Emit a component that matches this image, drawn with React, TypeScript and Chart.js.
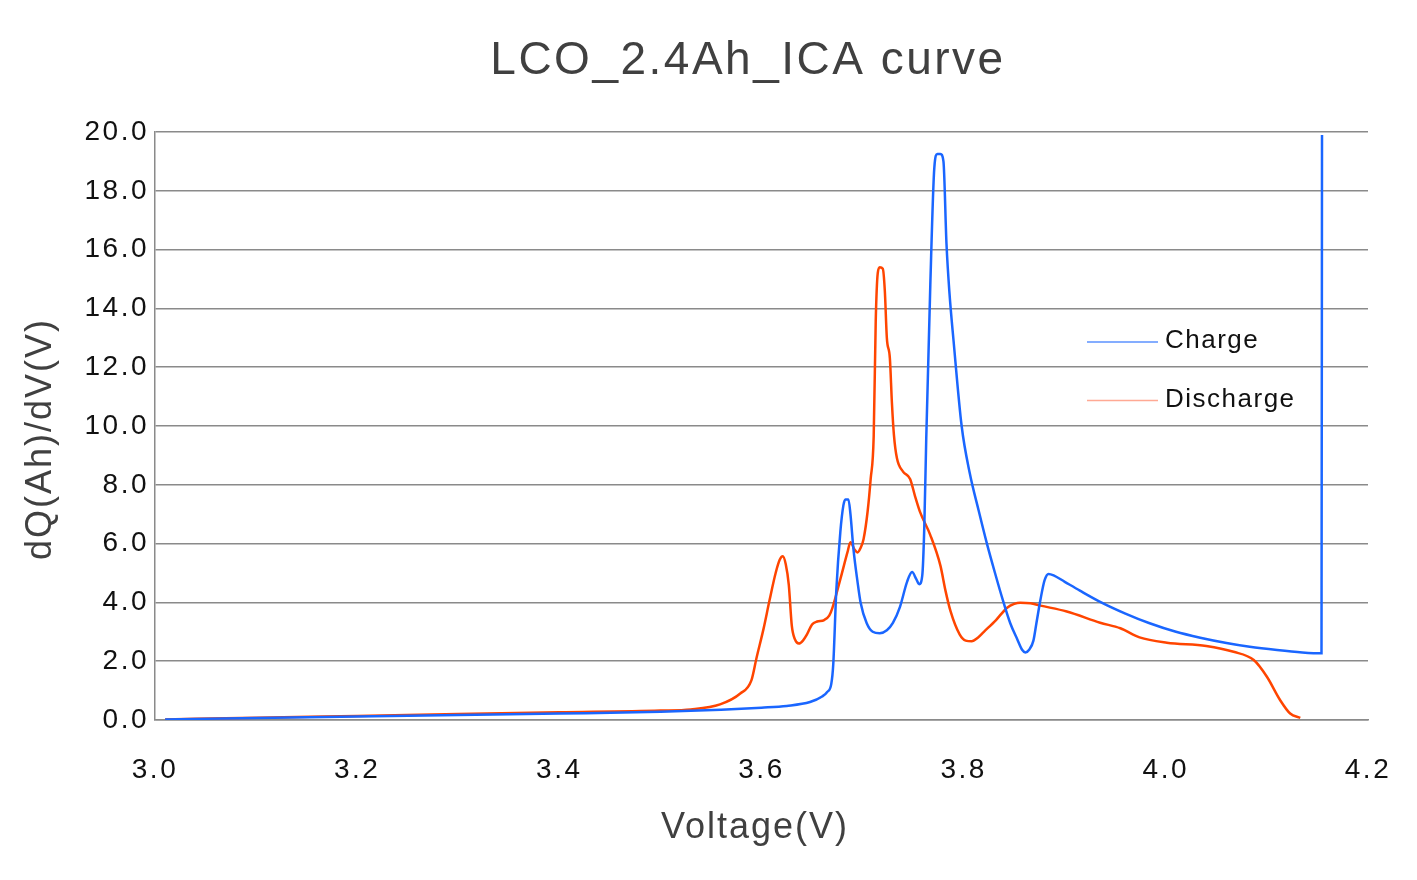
import React, { useEffect, useRef } from "react";
import { Chart, registerables } from "chart.js";

Chart.register(...registerables);

const chartTitle = "LCO_2.4Ah_ICA curve";
const xAxisTitle = "Voltage(V)";
const yAxisTitle = "dQ(Ah)/dV(V)";
const seriesLabels = ["Charge", "Discharge"];

const chargeV = [
  3.01, 3.1, 3.2, 3.3, 3.4, 3.5, 3.56, 3.6, 3.625, 3.648, 3.66, 3.665, 3.669, 3.671, 3.674, 3.678,
  3.681, 3.683, 3.686, 3.688, 3.691, 3.695, 3.698, 3.704, 3.71, 3.717, 3.724, 3.73, 3.737, 3.744,
  3.749, 3.753, 3.756, 3.759, 3.761, 3.763, 3.767, 3.771, 3.774, 3.777, 3.78, 3.783, 3.786, 3.79,
  3.798, 3.806, 3.815, 3.823, 3.831, 3.839, 3.846, 3.853, 3.858, 3.861, 3.865, 3.869, 3.872, 3.876,
  3.88, 3.884, 3.889, 3.9, 3.915, 3.935, 3.96, 3.984, 4.01, 4.034, 4.06, 4.083, 4.11, 4.135, 4.154,
  4.1545,
];
const chargeDQ = [
  0.02, 0.07, 0.12, 0.17, 0.22, 0.28, 0.35, 0.42, 0.48, 0.61, 0.8, 0.95, 1.22, 1.9, 4.4, 6.4,
  7.3, 7.5, 7.5, 7.0, 5.8, 4.7, 4.0, 3.3, 3.0, 2.95, 3.05, 3.3, 3.85, 4.7,
  5.03, 4.8, 4.62, 4.9, 6.5, 9.6, 14.8, 18.8, 19.25, 19.25, 19.0, 16.2, 14.5, 12.9,
  10.0, 8.4, 7.1, 6.0, 5.0, 4.05, 3.3, 2.75, 2.38, 2.3, 2.4, 2.7, 3.3, 4.1,
  4.75, 4.97, 4.92, 4.7, 4.4, 4.02, 3.62, 3.29, 3.0, 2.8, 2.62, 2.49, 2.38, 2.3, 2.27,
  19.9,
];

const dischargeV = [
  3.01, 3.1, 3.2, 3.3, 3.4, 3.5, 3.53, 3.559, 3.579, 3.59, 3.595, 3.602, 3.608, 3.614, 3.618, 3.621,
  3.624, 3.627, 3.63, 3.633, 3.637, 3.641, 3.645, 3.65, 3.655, 3.662, 3.667, 3.67, 3.678, 3.685,
  3.688, 3.692, 3.695, 3.698, 3.701, 3.705, 3.708, 3.711, 3.713, 3.715, 3.717, 3.72, 3.722, 3.724,
  3.727, 3.729, 3.731, 3.734, 3.74, 3.747, 3.752, 3.757, 3.767, 3.777, 3.782, 3.787, 3.796, 3.802,
  3.808, 3.814, 3.82, 3.832, 3.843, 3.85, 3.856, 3.866, 3.876, 3.902, 3.935, 3.955, 3.974, 4.001,
  4.04, 4.067, 4.087, 4.1, 4.113, 4.123, 4.133,
];
const dischargeDQ = [
  0.02, 0.08, 0.14, 0.2, 0.26, 0.32, 0.36, 0.53, 0.9, 1.35, 2.1, 3.1, 4.08, 5.0, 5.45, 5.57,
  5.3, 4.6, 3.2, 2.75, 2.6, 2.7, 2.91, 3.25, 3.35, 3.4, 3.55, 3.8, 4.79, 5.7,
  6.05, 5.8, 5.7, 5.85, 6.16, 7.1, 8.2, 9.66, 13.56, 15.2, 15.4, 15.35, 14.6, 13.0,
  12.3, 10.8, 9.7, 8.9, 8.45, 8.2, 7.6, 7.06, 6.29, 5.25, 4.4, 3.7, 2.91, 2.7,
  2.68, 2.8, 3.0, 3.4, 3.82, 3.95, 3.99, 3.97, 3.89, 3.69, 3.31, 3.12, 2.81, 2.63,
  2.52, 2.32, 2.04, 1.47, 0.68, 0.22, 0.07,
];

const xMin = 3.0;
const xMax = 4.2;
const xStep = 0.2;
const yMin = 0;
const yMax = 20;
const yStep = 2;

const chargeColor = "#1a66ff";
const dischargeColor = "#ff4500";
const legendColors = ["#5b92ff", "#ffa994"];

const FONT = "'Liberation Sans', Arial, sans-serif";

const textPlugin = {
  id: "textPlugin",
  beforeLayout(chart: any) {
    chart.ctx.letterSpacing = "2.5px";
  },
  beforeDraw(chart: any) {
    chart.ctx.letterSpacing = "2.5px";
  },
  afterDraw(chart: any) {
    const ctx = chart.ctx;
    const area = chart.chartArea;
    ctx.save();
    // Chart title
    ctx.letterSpacing = "2.5px";
    ctx.font = `46px ${FONT}`;
    ctx.fillStyle = "#404040";
    ctx.textAlign = "center";
    ctx.textBaseline = "alphabetic";
    ctx.fillText(chartTitle, 748, 73.5);
    // X axis title
    ctx.letterSpacing = "2px";
    ctx.font = `36px ${FONT}`;
    ctx.textBaseline = "middle";
    ctx.fillText(xAxisTitle, 755, 828);
    // Y axis title
    ctx.save();
    ctx.translate(41, 439);
    ctx.rotate(-Math.PI / 2);
    ctx.textAlign = "center";
    ctx.textBaseline = "middle";
    ctx.fillText(yAxisTitle, 0, 0);
    ctx.restore();
    // Legend
    ctx.letterSpacing = "1.5px";
    ctx.font = `26px ${FONT}`;
    ctx.textAlign = "left";
    ctx.textBaseline = "middle";
    chart.data.datasets.forEach((ds: any, i: number) => {
      const y = area.top + 210 + i * 58.5;
      const x0 = area.right - 281;
      ctx.strokeStyle = legendColors[i];
      ctx.lineWidth = 1.3;
      ctx.beginPath();
      ctx.moveTo(x0, y);
      ctx.lineTo(x0 + 71, y);
      ctx.stroke();
      ctx.fillStyle = "#111111";
      ctx.fillText(ds.label, x0 + 78, y - 1);
    });
    ctx.restore();
    ctx.letterSpacing = "0px";
  },
};

export default function App() {
  const canvasRef = useRef<HTMLCanvasElement | null>(null);

  useEffect(() => {
    document.body.style.margin = "0";
    const canvas = canvasRef.current;
    if (!canvas) return;
    const chargeData = chargeV.map((v, i) => ({ x: v, y: chargeDQ[i] }));
    const dischargeData = dischargeV.map((v, i) => ({ x: v, y: dischargeDQ[i] }));
    const chart = new Chart(canvas, {
      type: "line",
      data: {
        datasets: [
          {
            label: seriesLabels[0],
            data: chargeData,
            borderColor: chargeColor,
            backgroundColor: chargeColor,
            borderWidth: 2.5,
            pointRadius: 0,
            cubicInterpolationMode: "monotone",
            fill: false,
          },
          {
            label: seriesLabels[1],
            data: dischargeData,
            borderColor: dischargeColor,
            backgroundColor: dischargeColor,
            borderWidth: 2.5,
            pointRadius: 0,
            cubicInterpolationMode: "monotone",
            fill: false,
          },
        ],
      },
      options: {
        responsive: false,
        animation: false,
        layout: { padding: { top: 132, right: 49, left: 0, bottom: 0 } },
        plugins: {
          legend: { display: false },
          title: { display: false },
          tooltip: { enabled: false },
        },
        scales: {
          x: {
            type: "linear",
            min: xMin,
            max: xMax,
            afterFit(scale: any) {
              scale.height = 160;
              scale.paddingLeft = 0;
              scale.paddingRight = 0;
            },
            ticks: {
              stepSize: xStep,
              color: "#111111",
              font: { family: FONT, size: 28 },
              padding: 33,
              maxRotation: 0,
              callback: (v: any) => Number(v).toFixed(1),
            },
            grid: { display: false, drawTicks: false },
            border: { display: true, color: "#8a8a8a", width: 1.5 },
            title: { display: false, text: xAxisTitle },
          },
          y: {
            type: "linear",
            min: yMin,
            max: yMax,
            afterFit(scale: any) {
              scale.width = 155;
              scale.paddingTop = 0;
              scale.paddingBottom = 0;
            },
            ticks: {
              stepSize: yStep,
              color: "#111111",
              font: { family: FONT, size: 28 },
              padding: 6,
              callback: (v: any) => Number(v).toFixed(1),
            },
            grid: { color: "#8a8a8a", lineWidth: 1.5, drawTicks: false },
            border: { display: true, color: "#8a8a8a", width: 1.5 },
            title: { display: false, text: yAxisTitle },
          },
        },
      },
      plugins: [textPlugin],
    });
    return () => chart.destroy();
  }, []);

  return (
    <div style={{ position: "absolute", left: 0, top: 0, width: 1417, height: 880, background: "#fff" }}>
      <canvas ref={canvasRef} width={1417} height={880} />
    </div>
  );
}
